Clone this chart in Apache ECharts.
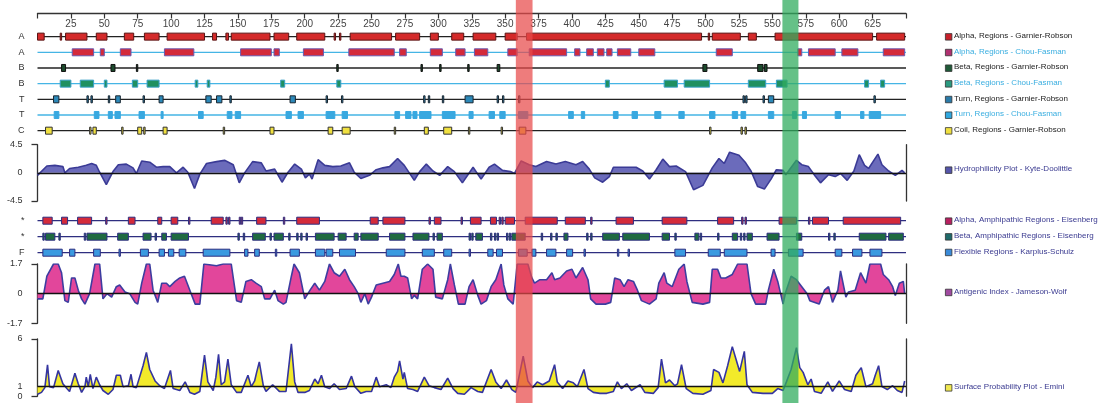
<!DOCTYPE html>
<html><head><meta charset="utf-8">
<script src="https://cdn.jsdelivr.net/npm/echarts@6/dist/echarts.min.js"></script>
<style>html,body{margin:0;padding:0;background:#fff}#c{width:1110px;height:403px}</style>
</head><body><div id="c"></div>
<script>
// ---------------- DATA ----------------
const residueMax = 650;
const topRowLabels = ['A','A','B','B','T','T','C'];
const lowRowLabels = ['*','*','F'];

const alphaGR = [[0,5],[17,18],[21,37],[44,52],[65,72],[80,91],[97,125],[131,134],[141,143],[145,174],[177,188],[194,215],[222,223],[226,227],[234,265],[268,286],[294,300],[310,319],[326,343],[350,359],[366,497],[502,503],[505,526],[532,538],[552,625],[628,649]];
const alphaCF = [[26,42],[47,50],[62,70],[95,117],[152,175],[177,181],[199,214],[233,267],[271,276],[294,303],[313,320],[327,337],[352,359],[368,396],[402,406],[411,416],[419,424],[426,430],[434,444],[450,462],[508,520],[569,572],[577,597],[602,614],[633,649]];
const betaGR = [[18,21],[55,58],[74,75],[224,225],[287,288],[301,302],[322,323],[344,346],[498,501],[539,543],[544,546]];
const betaCF = [[17,25],[32,42],[50,52],[71,75],[82,91],[118,120],[127,129],[182,185],[224,227],[425,428],[469,479],[484,503],[532,545],[553,561],[619,622],[631,634]];
const turnGR = [[12,16],[37,38],[40,41],[53,54],[58.5,62],[79,80],[91,94],[126,130],[134,138],[144,145],[189,193],[216,217],[227.5,228.5],[289,290],[292.5,293.5],[303,304],[320,326],[344,345],[348,349],[360,361],[528,529],[530,531],[543,544],[547,551],[626,627]];
const turnCF = [[12.5,16],[42.5,46],[53,56],[58,62],[76,80],[92.5,94],[120.5,124],[142,145.5],[148,152],[186,190],[195,199],[216,222.5],[228,232],[267.5,271],[275.5,279.5],[281,284],[286,294.5],[303,312.5],[323,326],[338,342],[346,350],[360,367],[397.5,401],[407,409.5],[431,434.5],[445,449],[462,466.5],[480,484],[503,507],[520,524],[526.5,530],[547,551],[565,568],[572.5,575.5],[597,601],[616,618.5],[622.5,631]];
const coilGR = [[6,11],[39,40],[41.5,44],[63,64],[75,78],[79.5,80.5],[94,97],[139,140],[174,177],[217.5,221],[228,234],[267,268],[289.5,292.5],[304,310],[322.5,323.5],[347,348],[360.5,365.5],[503,504],[526.5,527.5],[529.5,530.5]];

const alphaAmph = [[4,11],[18,22.5],[30,40.5],[51,52],[68,73],[90,93],[100,105],[113,114],[130,139],[141,142],[143,144],[151,152],[152.5,153.5],[164,171],[184,185],[194,211],[249,255],[258.5,275],[293,294],[297,302],[317,318],[324,332],[339,343.5],[345.5,346.5],[347.5,348.5],[350,357],[365,389],[395,410],[414,415],[433,446],[467.5,486],[509,521],[527,528],[529.5,530.5],[555,568],[577,578],[580,592],[603,646]];
const betaAmph = [[4,5],[6,13],[16,17],[35,36],[37,52],[60,68],[79,85],[88,89],[93,96.5],[100,113],[150,151],[154,155],[161,170.5],[174,175],[177,184],[188,189],[194,195],[197,198],[201,202],[208,222],[225,231],[237,240],[242,255],[263.5,275],[281,293],[296,297],[299,303],[323,324],[325,326],[328,333],[339,340],[342,343],[344,345],[351,352],[353,354],[355,365],[377,378],[384,385],[388,389],[394,397],[411,412],[414,415],[423,435.5],[438,458],[467.5,473],[477,478],[492,495],[496,497],[509,510],[520,524],[526,527],[528.5,529.5],[531,535],[546,555],[568,572],[592,593],[596,597],[615,635],[637,648]];
const flexRegions = [[4,18.5],[24,28],[42,47],[61,62],[77,83],[91,95],[98,102],[106,111],[124,144],[155,157.5],[162.5,166],[178,179],[189,196],[208,215],[216,221],[226,238],[261,275],[288,297],[304,310],[323,324],[337,341],[343.5,348],[360,366.5],[370,373],[381,388],[396,400.5],[409,410],[434,435],[442,443],[477,485],[502,511],[514,531],[549,552],[562,573],[597,602],[610,617],[623,632]];

const hydroPoints = [[0,-0.4],[7,1.1],[13,1.2],[19,1.0],[20.5,0.0],[24,0.7],[30.5,0.9],[36.5,1.2],[40.5,1.5],[44,1.2],[46.5,0.1],[51.5,-1.9],[56.5,0.2],[60.5,1.3],[66.5,1.4],[71.5,0.8],[74,-0.1],[78,1.9],[84,1.7],[89,0.9],[94,1.0],[99,1.0],[104,0.0],[109,0.9],[112.5,0.1],[117.5,-2.5],[121.5,-0.2],[126.5,1.5],[134,1.8],[140,2.0],[146.5,1.3],[151,-1.6],[155,0.0],[161,1.8],[167.5,1.6],[171,0.3],[177.5,0.6],[183,-1.5],[187.5,0.1],[192.5,1.4],[197.5,0.6],[200.5,-0.8],[203.5,-0.2],[205.5,-1.0],[210,2.1],[215,1.2],[221,1.0],[227,1.1],[233.5,1.6],[237,0.1],[242,-0.9],[248.5,-0.4],[253.5,0.5],[258.5,0.8],[263.5,1.0],[269.5,2.3],[274.5,1.2],[282,-1.2],[286,0.2],[291,1.4],[296,0.3],[301,-0.4],[307,1.0],[312,0.2],[318,-1.6],[326,0.9],[332,-1.0],[338,0.9],[342,1.4],[348,0.4],[354,0.2],[357,-0.1],[362,1.9],[368,1.3],[373,1.0],[381,1.8],[388,1.4],[395,1.8],[403,1.3],[408,1.8],[413,0.6],[417,-0.8],[423,-1.5],[428,-0.6],[431,0.9],[438,0.9],[448,0.9],[453,0.3],[458,-1.0],[463,0.5],[468,2.2],[473,1.0],[478,1.1],[485,0.2],[491,-2.7],[498,-2.0],[505,0.8],[510,2.3],[514,1.5],[518,3.3],[525,2.8],[530,1.6],[534,0.3],[539,-2.2],[544,-2.6],[549,-1.0],[553,0.5],[558,0.4],[560,-0.3],[568,2.0],[572,1.3],[577,1.0],[582,-0.5],[586,-1.6],[592,-0.3],[597,-0.6],[601,-0.1],[606,-1.2],[611,0.3],[615,2.9],[619,1.2],[622,0.7],[629,3.0],[632,1.3],[637,0.3],[642,-0.4],[647,0.4],[649,0.0]];

const antigenicPoints = [[0,-0.3],[4,-0.3],[7,1.0],[12,1.7],[15.5,1.7],[18,1.2],[20.5,-0.4],[23,-0.5],[25.5,0.9],[28,0.9],[30.5,0.2],[33,-0.3],[35.5,-0.6],[39,0.0],[43,1.7],[46.5,1.7],[49,-0.3],[52,0.0],[55.5,-0.2],[59,0.4],[61.5,0.5],[65.5,0.1],[69,0.0],[73,-0.5],[75,-0.6],[78,0.6],[81.5,1.7],[84,1.7],[86.5,0.2],[90,-0.5],[93,0.6],[96.5,0.6],[99,0.4],[103,0.7],[106.5,0.9],[110,1.0],[114,0.2],[118,-0.6],[121.5,-0.6],[124.5,1.7],[134,1.6],[139,1.7],[145,1.7],[149,-0.4],[152.5,-0.5],[156,0.7],[160,0.8],[163.5,0.6],[167.5,0.4],[170,-0.3],[174,-0.3],[177.5,0.2],[180,-0.4],[184,-0.6],[186,-0.5],[190,1.0],[192,1.7],[196,1.2],[200,-0.3],[204,0.2],[207.5,0.6],[211,0.2],[215,0.7],[218.5,1.7],[222,1.2],[226,1.0],[230,1.4],[233.5,0.8],[237,0.4],[240,0.0],[242,-0.5],[245,0.0],[247.5,-0.6],[250,-0.2],[253.5,0.5],[258.5,0.6],[263.5,0.7],[267,1.1],[270,1.7],[272,1.0],[274.5,1.0],[277,0.9],[280,-0.3],[282,-0.1],[284.5,-0.3],[288,1.4],[292,1.7],[296,1.4],[298,-0.2],[303,-0.3],[307,0.8],[309,1.7],[312,0.5],[315,-0.6],[320,-0.6],[323,0.4],[326,0.8],[329.5,-0.1],[332,-0.6],[336,-0.4],[339.5,0.4],[343,0.8],[347,1.7],[349,0.5],[352,-0.3],[356,-0.6],[359,1.7],[367,1.7],[370,0.9],[372,0.6],[376,0.8],[381,0.8],[385,1.2],[387,0.8],[391,0.9],[396,1.3],[400,1.4],[403,0.9],[408,1.5],[412,0.8],[414,-0.3],[418,-0.6],[425,-0.6],[429,-0.5],[432,0.9],[436,0.8],[439,0.4],[442,0.8],[446,0.7],[449,0.2],[452,-0.4],[458,-0.6],[463,-0.3],[465,0.6],[469,1.2],[471,0.6],[475,0.4],[480,1.4],[484,1.7],[486,0.7],[490,-0.5],[498,-0.6],[503,-0.5],[505,1.4],[509,1.4],[511.5,0.9],[515,0.9],[520,1.1],[524,1.7],[531,1.7],[534,0.0],[537.5,-0.6],[545,-0.6],[547,0.2],[551,1.4],[554,0.7],[558,-0.6],[560,0.1],[564,1.0],[568,0.8],[572,0.4],[576,0.0],[578,-0.4],[585,-0.6],[589,0.2],[592,0.4],[595,-0.5],[599,0.2],[601,1.3],[605,-0.2],[607,0.1],[612,0.2],[616,1.2],[620,0.6],[623,1.7],[631,1.7],[633,1.1],[637,0.8],[640,0.4],[642,-0.1],[645,0.6],[648,0.7],[649,0.0]];

const surfacePoints = [[0,0.2],[3,0.4],[5.5,0.9],[7.5,3.3],[9,1.0],[12,0.9],[15.5,2.7],[19,1.3],[22,0.8],[24,0.5],[28,2.4],[30.5,1.3],[33,0.4],[35.5,1.0],[36.5,2.0],[38,1.0],[39.5,2.3],[41.5,0.8],[44,2.0],[46.5,1.2],[49,0.6],[53,0.2],[56.5,0.7],[59,2.2],[62,2.2],[64,1.0],[68,1.1],[70,2.3],[71.5,1.0],[74,0.9],[79,3.2],[81.5,4.6],[84,2.8],[88,1.6],[91.5,1.1],[95,0.8],[99.5,2.7],[101.5,0.8],[106.5,0.6],[110.5,1.5],[114,0.4],[117.5,0.2],[121.5,0.5],[125,4.3],[127.5,1.5],[131.5,0.6],[133.5,2.0],[135.5,4.4],[137.5,1.2],[140,1.5],[142.5,3.9],[145,1.2],[149,0.4],[152.5,0.4],[157.5,2.2],[160,1.0],[162.5,1.6],[164,2.5],[166,3.6],[169,1.1],[171,0.5],[176,1.2],[181,0.5],[186,0.5],[190,5.5],[192.5,1.5],[195,0.4],[200,0.4],[203.5,0.6],[207.5,1.8],[210,1.3],[212.5,2.2],[215,1.0],[218.5,0.8],[222,1.3],[226,0.7],[231,0.8],[235,2.1],[237.5,1.0],[242,0.3],[246,0.5],[250,0.5],[253.5,2.0],[256,1.0],[261,1.2],[264.5,0.9],[267,2.0],[269.5,2.6],[271,3.7],[273.5,1.8],[274.5,2.5],[277,0.8],[281,0.7],[284.5,0.5],[289.5,2.0],[293,1.1],[297,0.9],[302,0.7],[307,1.9],[311,0.8],[314.5,0.3],[319.5,0.2],[324.5,0.9],[329.5,0.5],[333,0.4],[339.5,2.8],[343,1.5],[347,0.8],[351,1.7],[355,0.7],[358,0.4],[363.5,4.2],[367,1.6],[370.5,0.9],[374,1.5],[378,1.2],[383,1.6],[387,3.3],[389,1.5],[393,0.8],[397,1.6],[401,1.4],[404,1.0],[409,2.8],[412,0.8],[416,0.4],[421,0.3],[426,0.3],[431,0.5],[434,1.5],[437,0.8],[441,1.3],[444.5,0.6],[451,1.2],[454.5,0.4],[461,0.3],[464.5,0.9],[467,3.9],[470,1.4],[473,1.7],[477,1.1],[479,1.3],[482,3.3],[485.5,0.8],[490.5,0.3],[498,0.2],[504,0.6],[506,2.8],[510,2.5],[513,1.4],[516.5,3.2],[520,5.2],[522.5,4.0],[525.5,2.6],[529,4.7],[531,1.2],[535,0.4],[543,0.3],[550,0.3],[554,0.8],[558,0.6],[560.5,1.5],[564,2.8],[568,5.1],[570.5,3.0],[573,2.5],[576.5,1.2],[579,1.8],[581.5,0.5],[586.5,0.3],[591.5,1.5],[595,0.5],[600,1.6],[604,0.7],[609,0.5],[612.5,2.2],[616.5,3.0],[620,1.0],[625,1.3],[627,2.2],[629.5,3.2],[632,1.0],[636,0.7],[640,1.1],[643.5,0.6],[647,0.4],[649,1.6]];

const highlightBands = [[358,370.5],[557.5,569.5]];

const topLegendLabels = ['Alpha, Regions - Garnier-Robson','Alpha, Regions - Chou-Fasman','Beta, Regions - Garnier-Robson','Beta, Regions - Chou-Fasman','Turn, Regions - Garnier-Robson','Turn, Regions - Chou-Fasman','Coil, Regions - Garnier-Robson'];
const lowLegendLabels = ['Hydrophilicity Plot - Kyte-Doolittle','Alpha, Amphipathic Regions - Eisenberg','Beta, Amphipathic Regions - Eisenberg','Flexible Regions - Karplus-Schulz','Antigenic Index - Jameson-Wolf','Surface Probability Plot - Emini'];

// ---------------- STYLE ----------------
const FONT = '"Liberation Sans", Arial, sans-serif';
const GL = 37.5, GR = 204;
const grids = [
  {left:GL, right:GR, top:28.8, height:109.7},  // 0 top tracks
  {left:GL, right:GR, top:144.7, height:56.3},  // 1 hydrophilicity
  {left:GL, right:GR, top:212.7, height:48},    // 2 lower tracks
  {left:GL, right:GR, top:264, height:59.3},    // 3 antigenic
  {left:GL, right:GR, top:339, height:57.2},    // 4 surface
  {left:GL, right:GR, top:0, height:403}        // 5 overlay bands
];

function xAx(i, extra){
  return Object.assign({type:'value', gridIndex:i, min:0, max:residueMax, show:false}, extra||{});
}
const xAxes = [
  xAx(0, {show:true, position:'top', offset:15.3, interval:25,
    axisLine:{show:true, lineStyle:{color:'#333', width:1.3}},
    axisTick:{show:true, inside:true, length:5, lineStyle:{color:'#333', width:1.2}},
    axisLabel:{show:true, inside:true, margin:6, color:'#444', fontSize:10, fontFamily:FONT,
      formatter:v => (v===0||v===residueMax)?'':String(v)},
    splitLine:{show:false}}),
  xAx(1), xAx(2), xAx(3), xAx(4), xAx(5)
];

function catY(i, labels){
  return {type:'category', gridIndex:i, data:labels, inverse:true,
    axisLine:{show:false}, axisTick:{show:false}, splitLine:{show:false},
    axisLabel:{color:'#333', fontSize:9, fontFamily:FONT, margin:13}};
}
function valY(i, min, max, labelVals, tickVals, fmt){
  return {type:'value', gridIndex:i, min:min, max:max,
    axisLine:{show:true, lineStyle:{color:'#333', width:1.3}},
    axisTick:{show:true, length:6, customValues:tickVals, lineStyle:{color:'#333', width:1.3}},
    axisLabel:{show:true, customValues:labelVals, color:'#333', fontSize:9, fontFamily:FONT, margin:15, formatter:fmt},
    splitLine:{show:false}};
}
function rightY(i, min, max){
  return {type:'value', gridIndex:i, min:min, max:max, position:'right',
    axisLine:{show:true, lineStyle:{color:'#333', width:1.3}}, axisTick:{show:false},
    axisLabel:{show:false}, splitLine:{show:false}};
}
const yAxes = [
  catY(0, topRowLabels),                                          // 0
  valY(1, -4.5, 4.5, [-4.5,0,4.5], [-4.5,4.5], v=>String(v)),      // 1
  catY(2, lowRowLabels),                                          // 2
  valY(3, -1.7, 1.7, [-1.7,0,1.7], [-1.7,1.7], v=>String(v)),      // 3
  valY(4, 0, 6, [0,1,6], [0,6], v=>String(v)),                     // 4
  {type:'value', gridIndex:5, min:0, max:1, show:false},           // 5
  rightY(1, -4.5, 4.5),                                           // 6
  rightY(3, -1.7, 1.7),                                           // 7
  rightY(4, 0, 6)                                                 // 8
];

function rowLines(gridIdx, count, colors){
  const data = [];
  for (let i=0;i<count;i++) data.push([0, residueMax, i]);
  return {type:'custom', xAxisIndex:gridIdx, yAxisIndex:gridIdx, silent:true, z:2,
    encode:{x:[0,1], y:2}, data:data,
    renderItem:(p, api)=>{
      const a = api.coord([api.value(0), api.value(2)]);
      const b = api.coord([api.value(1), api.value(2)]);
      return {type:'line', shape:{x1:a[0], y1:a[1], x2:b[0], y2:b[1]},
        style:{stroke:colors[p.dataIndex], lineWidth:1.3}};
    }};
}
function track(segs, row, gridIdx, fill, stroke){
  return {type:'custom', xAxisIndex:gridIdx, yAxisIndex:gridIdx, silent:true, z:3,
    encode:{x:[0,1], y:2}, data:segs.map(s=>[s[0], s[1], row]),
    renderItem:(p, api)=>{
      const a = api.coord([api.value(0), api.value(2)]);
      const b = api.coord([api.value(1), api.value(2)]);
      const h = 7;
      return {type:'rect', shape:{x:a[0], y:a[1]-h/2, width:Math.max(b[0]-a[0], 1.4), height:h},
        style:{fill:fill, stroke:stroke, lineWidth:1}};
    }};
}
function curve(points, gridIdx, yIdx, lineColor, areaColor, origin){
  return {type:'line', xAxisIndex:gridIdx, yAxisIndex:yIdx, data:points, showSymbol:false, symbol:'none',
    silent:true, z:3,
    lineStyle:{color:lineColor, width:1.6},
    areaStyle:{color:areaColor, opacity:1, origin:origin},
    markLine:{silent:true, symbol:'none', label:{show:false}, animation:false,
      lineStyle:{color:'#111', width:1.4, type:'solid'}, data:[{yAxis:origin}], z:4}};
}

const GRc = '#222', CFc = '#45b5e5', EIc = '#2e2e80';
const series = [
  rowLines(0, 7, [GRc, CFc, GRc, CFc, GRc, CFc, GRc]),
  track(alphaGR, 0, 0, '#d42a2a', '#5a1414'),
  track(alphaCF, 1, 0, '#d42a3a', '#6a5ab0'),
  track(betaGR, 2, 0, '#1c4a2c', '#111'),
  track(betaCF, 3, 0, '#1f9060', '#3aa0c8'),
  track(turnGR, 4, 0, '#2c88b8', '#1a2630'),
  track(turnCF, 5, 0, '#38a8e0', '#38a8e0'),
  track(coilGR, 6, 0, '#f0e040', '#333'),
  curve(hydroPoints, 1, 1, '#3b3b96', '#6b6bbb', 0),
  rowLines(2, 3, [EIc, EIc, EIc]),
  track(alphaAmph, 0, 2, '#d42a3a', EIc),
  track(betaAmph, 1, 2, '#1f6a40', EIc),
  track(flexRegions, 2, 2, '#3a9ae0', EIc),
  curve(antigenicPoints, 3, 3, '#3d3da0', '#e2469b', 0),
  curve(surfacePoints, 4, 4, '#3434a0', '#f2ea2a', 1),
  {type:'custom', xAxisIndex:5, yAxisIndex:5, silent:true, z:10,
    encode:{x:[0,1]}, data:highlightBands.map((b,i)=>[b[0], b[1], i]),
    renderItem:(p, api)=>{
      const a = api.coord([api.value(0), 1]);
      const b = api.coord([api.value(1), 0]);
      const cols = ['rgba(232,74,74,0.72)', 'rgba(50,172,95,0.75)'];
      return {type:'rect', shape:{x:a[0], y:a[1], width:b[0]-a[0], height:b[1]-a[1]},
        style:{fill:cols[p.dataIndex]}};
    }}
];

// legend (graphic)
const topLegendStyle = [
  ['#c8202a','#222'],['#b03070','#3aaee0'],['#1f5a38','#222'],['#2a9a80','#3aaee0'],
  ['#2a7aa8','#222'],['#30a8e0','#3aaee0'],['#f0e040','#222']
];
const lowLegendStyle = [['#5555aa',170],['#b82060',221],['#1f6a6a',236.7],['#3a8ad8',252.3],['#a04aa0',292.3],['#f0e850',387.7]];
const graphics = [];
topLegendLabels.forEach((t,i)=>{
  const y = 36.7 + i*15.67;
  graphics.push({type:'rect', left:945, top:y-3.5, shape:{width:6.5, height:6.5},
    style:{fill:topLegendStyle[i][0], stroke:'#333', lineWidth:0.8}});
  graphics.push({type:'text', left:954, top:y-5, style:{text:t, fill:topLegendStyle[i][1], font:'8px '+FONT}});
});
lowLegendLabels.forEach((t,i)=>{
  const y = lowLegendStyle[i][1];
  graphics.push({type:'rect', left:945, top:y-3.5, shape:{width:6.5, height:6.5},
    style:{fill:lowLegendStyle[i][0], stroke:'#333', lineWidth:0.8}});
  graphics.push({type:'text', left:954, top:y-5, style:{text:t, fill:'#3a3a90', font:'8px '+FONT}});
});

const chart = echarts.init(document.getElementById('c'), null, {renderer:'canvas'});
chart.setOption({
  animation:false,
  backgroundColor:'#fff',
  grid:grids, xAxis:xAxes, yAxis:yAxes, series:series, graphic:graphics
});
</script></body></html>
